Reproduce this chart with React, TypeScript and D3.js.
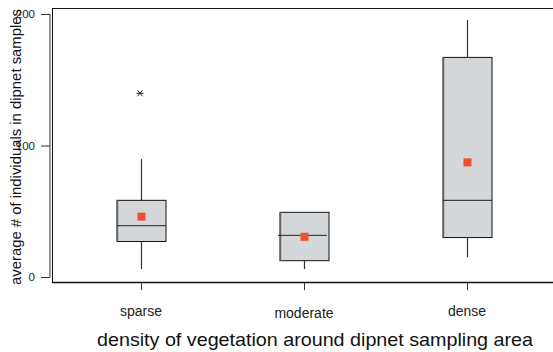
import React from "react";
import * as d3 from "d3";

const categories = ["sparse", "moderate", "dense"];
const whiskerLow = [6, 6, 15];
const q1 = [27, 12.4, 30];
const medians = [39, 31.7, 58.3];
const q3 = [58.3, 49.2, 167];
const whiskerHigh = [89.7, 49.2, 195.4];
const means = [45.9, 30.6, 87.2];
const outliers = [{ cat: "sparse", value: 139.7 }];
const yTicks = [0, 100, 200];

const W = 553;
const H = 352;

export default function App() {
  const y = d3.scaleLinear().domain([0, 200]).range([277, 14]);
  const x = d3.scalePoint().domain(categories).range([141, 467]);
  const boxW = 49;
  const font = "'Liberation Sans', Arial, sans-serif";

  return (
    <svg width={W} height={H} style={{ position: "absolute", left: 0, top: 0 }} fontFamily={font}>
      <rect x={0} y={0} width={W} height={H} fill="#fff" />
      {/* frame */}
      <line x1={52.5} y1={8.5} x2={553} y2={8.5} stroke="#111" strokeWidth={1} />
      <line x1={52.5} y1={8} x2={52.5} y2={283} stroke="#111" strokeWidth={1} />
      <line x1={52} y1={282.5} x2={553} y2={282.5} stroke="#111" strokeWidth={1.3} />
      {/* y axis */}
      <line x1={50} y1={y(200)} x2={50} y2={y(0)} stroke="#777" strokeWidth={1.5} />
      {yTicks.map((t) => (
        <g key={t}>
          <line x1={41} x2={50} y1={y(t) + 0.5} y2={y(t) + 0.5} stroke="#333" strokeWidth={1} />
          <text x={35} y={y(t)} dy="0.35em" textAnchor="end" fontSize={11.5} fill="#222">
            {t}
          </text>
        </g>
      ))}
      <text
        transform={`translate(16,${147}) rotate(-90)`}
        textAnchor="middle"
        dy="0.35em"
        fontSize={15}
        fill="#111"
        textLength={276}
        lengthAdjust="spacingAndGlyphs"
      >
        average # of individuals in dipnet samples
      </text>
      {/* x ticks */}
      {categories.map((c, i) => (
        <g key={c}>
          <line x1={x(c)! + 0.5} x2={x(c)! + 0.5} y1={283} y2={290} stroke="#333" strokeWidth={1} />
          <text
            x={x(c)}
            y={i === 1 ? 313 : 311}
            dy="0.35em"
            textAnchor="middle"
            fontSize={14}
            fill="#222"
          >
            {c}
          </text>
        </g>
      ))}
      <text
        x={315}
        y={340}
        dy="0.35em"
        textAnchor="middle"
        fontSize={18.5}
        fill="#111"
        textLength={436}
        lengthAdjust="spacingAndGlyphs"
      >
        density of vegetation around dipnet sampling area
      </text>
      {/* boxes */}
      {categories.map((c, i) => {
        const cx = Math.round(x(c)!) + 0.5;
        const left = cx - boxW / 2;
        return (
          <g key={c}>
            <line x1={cx} x2={cx} y1={y(whiskerHigh[i])} y2={y(q3[i])} stroke="#333" strokeWidth={1.2} />
            <line x1={cx} x2={cx} y1={y(q1[i])} y2={y(whiskerLow[i])} stroke="#333" strokeWidth={1.2} />
            <rect
              x={left}
              y={y(q3[i])}
              width={boxW}
              height={y(q1[i]) - y(q3[i])}
              fill="#d4d7da"
              stroke="#111"
              strokeWidth={1}
            />
            <line x1={left + 0.5} x2={left + 0.5} y1={y(q3[i])} y2={y(q1[i])} stroke="#666" strokeWidth={1.5} />
            <line
              x1={i === 1 ? left - 2 : left}
              x2={left + boxW - (i === 1 ? 2 : 0)}
              y1={y(medians[i])}
              y2={y(medians[i])}
              stroke="#222"
              strokeWidth={1}
            />
            <rect
              x={cx - 4}
              y={y(means[i]) - 4}
              width={8}
              height={8}
              fill="#f04e2c"
            />
          </g>
        );
      })}
      {/* outliers */}
      {outliers.map((o, k) => {
        const cx = x(o.cat)! - 1;
        const cy = y(o.value);
        return (
          <g key={k} stroke="#222" strokeWidth={1}>
            <line x1={cx - 3.5} x2={cx + 3.5} y1={cy} y2={cy} />
            <line x1={cx - 2.5} x2={cx + 2.5} y1={cy - 3} y2={cy + 3} />
            <line x1={cx + 2.5} x2={cx - 2.5} y1={cy - 3} y2={cy + 3} />
          </g>
        );
      })}
    </svg>
  );
}
